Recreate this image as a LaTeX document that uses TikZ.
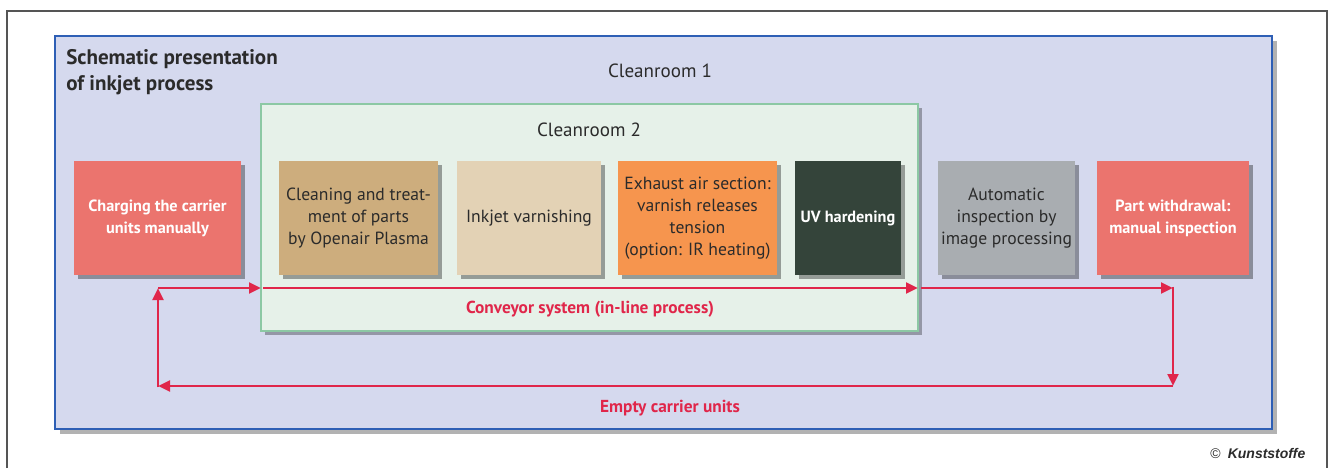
\documentclass[tikz,border=0pt]{standalone}
\usepackage{fontspec}
\setmainfont{PT Sans}
\newfontfamily\credfont{Liberation Sans}
\usetikzlibrary{arrows.meta,fit,shadows}

\definecolor{panelblue}{HTML}{D5D9EE}
\definecolor{panelline}{HTML}{2E5FB5}
\definecolor{roomgreen}{HTML}{E6F1E9}
\definecolor{roomline}{HTML}{8CC8A4}
\definecolor{loadred}{HTML}{EB746E}
\definecolor{cleantan}{HTML}{CDAD7D}
\definecolor{inkbeige}{HTML}{E3D2B5}
\definecolor{exhaustorange}{HTML}{F6954E}
\definecolor{uvdark}{HTML}{34443A}
\definecolor{inspectgray}{HTML}{A9ADB1}
\definecolor{conveyred}{HTML}{E0264A}
\definecolor{textdark}{HTML}{2B2B2B}
\definecolor{framegray}{HTML}{555555}

\tikzset{
  stagebox/.style={inner sep=0pt,
    drop shadow={shadow xshift=3pt, shadow yshift=-3pt, fill=black, opacity=0.35}},
  stagetext/.style={inner sep=0pt, align=center, text=textdark,
    font=\fontsize{13.2}{16.5}\selectfont},
  whitetext/.style={inner sep=0pt, align=center, text=white,
    font=\fontsize{12.2}{16.5}\selectfont\bfseries},
  conveyor/.style={draw=conveyred, line width=2.2pt,
    -{Triangle[length=9pt,width=8pt]}},
  redlabel/.style={text=conveyred, font=\fontsize{13}{15}\selectfont\bfseries}
}

\begin{document}
\begin{tikzpicture}[x=0.75pt,y=-0.75pt]
  \useasboundingbox (0,0) rectangle (1330,468);

  % outer frame (open towards the page bottom)
  \draw[framegray, line width=1.5pt] (7,468) -- (7,11) -- (1327,11) -- (1327,468);

  % cleanroom 1 panel
  \node[fill=panelblue, draw=panelline, line width=1pt, inner sep=0pt,
        drop shadow={shadow xshift=4pt, shadow yshift=-4pt, fill=black, opacity=0.3},
        fit={(55,36) (1272,429)}] (room1) {};
  \node[anchor=north west, align=left, text=textdark, inner sep=0pt,
        font=\fontsize{15.8}{19.5}\selectfont\bfseries] (title) at (66,49)
        {Schematic presentation\\of inkjet process};
  \node[text=textdark, font=\fontsize{14.3}{17}\selectfont] (room1label) at (660,71) {Cleanroom 1};

  % cleanroom 2 enclosure
  \node[fill=roomgreen, draw=roomline, line width=1.2pt, inner sep=0pt,
        drop shadow={shadow xshift=3pt, shadow yshift=-3pt, fill=black, opacity=0.3},
        fit={(261,104) (918,331)}] (room2) {};
  \node[text=textdark, font=\fontsize{14.3}{17}\selectfont] (room2label) at (589,130) {Cleanroom 2};

  % process stations
  \node[stagebox, fill=loadred, fit={(74,161) (241,275)}] (load) {};
  \node[whitetext] (loadtext) at (load.center) {Charging the carrier\\units manually};

  \node[stagebox, fill=cleantan, fit={(279,161) (438,275)}] (clean) {};
  \node[stagetext] (cleantext) at (clean.center) {Cleaning and treat-\\ment of parts\\by Openair Plasma};

  \node[stagebox, fill=inkbeige, fit={(457,161) (601,275)}] (ink) {};
  \node[stagetext] (inktext) at (ink.center) {Inkjet varnishing};

  \node[stagebox, fill=exhaustorange, fit={(618,161) (777,275)}] (exhaust) {};
  \node[stagetext] (exhausttext) at (exhaust.center) {Exhaust air section:\\varnish releases\\tension\\(option: IR heating)};

  \node[stagebox, fill=uvdark, fit={(795,161) (901,275)}] (uv) {};
  \node[whitetext] (uvtext) at (uv.center) {UV hardening};

  \node[stagebox, fill=inspectgray, fit={(938,161) (1075,275)}] (auto) {};
  \node[stagetext] (autotext) at (auto.center) {Automatic\\inspection by\\image processing};

  \node[stagebox, fill=loadred, fit={(1097,161) (1249,275)}] (unload) {};
  \node[whitetext] (unloadtext) at (unload.center) {Part withdrawal:\\manual inspection};

  % conveyor loop
  \coordinate (c1) at (158,288);
  \coordinate (c2) at (261,288);
  \coordinate (c3) at (263,288);
  \coordinate (c4) at (918,288);
  \coordinate (c5) at (921,288);
  \coordinate (c6) at (1173,288);
  \coordinate (c7) at (1173,386);
  \coordinate (c8) at (158,386);

  \draw[conveyor] (c1) -- (c2);
  \draw[conveyor] (c3) -- (c4);
  \draw[conveyor] (c5) -- (c6);
  \draw[conveyor, shorten <=-1.1pt] (c6) -- (c7);
  \draw[conveyor] (c7) -- (c8);
  \draw[conveyor, shorten <=-1.1pt] (c8) -- (c1);

  \node[redlabel] (convlabel) at (590,309) {Conveyor system (in-line process)};
  \node[redlabel] (emptylabel) at (670,408) {Empty carrier units};

  % credit line
  \node[anchor=east, text=textdark, font=\credfont\fontsize{10.5}{12}\selectfont] (credit) at (1310,453)
    {\textcopyright\enspace\textbf{\textit{Kunststoffe}}};
\end{tikzpicture}
\end{document}
